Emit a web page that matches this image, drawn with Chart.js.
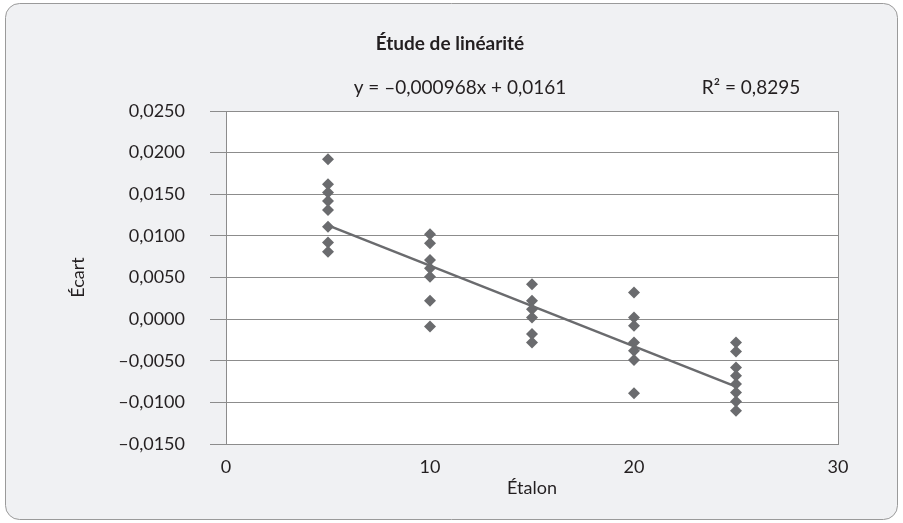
<!DOCTYPE html>
<html>
<head>
<meta charset="utf-8">
<script src="https://cdn.jsdelivr.net/npm/chart.js@4"></script>
<style>
  html, body { margin: 0; padding: 0; background: #ffffff; }
  #wrap { width: 903px; height: 523px; }
</style>
</head>
<body>
<div id="wrap"><canvas id="chart"></canvas></div>
<script>
const etalon5 = [0.0192, 0.0162, 0.0152, 0.0142, 0.0131, 0.0111, 0.0092, 0.0081];
const etalon10 = [0.0102, 0.0091, 0.0071, 0.0061, 0.0051, 0.0022, -0.0009];
const etalon15 = [0.0042, 0.0022, 0.0012, 0.0002, -0.0018, -0.0028];
const etalon20 = [0.0032, 0.0002, -0.0008, -0.0028, -0.0038, -0.0049, -0.0089];
const etalon25 = [-0.0028, -0.0039, -0.0058, -0.0068, -0.0078, -0.0088, -0.0099, -0.0110];
const levels = [5, 10, 15, 20, 25];

const slope = -0.000968;
const intercept = 0.0161;
const rSquared = '0,8295';
const trendRange = [5, 25];

const yTicks = [-0.015, -0.01, -0.005, 0, 0.005, 0.01, 0.015, 0.02, 0.025];
const xTicks = [0, 10, 20, 30];

const series = [etalon5, etalon10, etalon15, etalon20, etalon25];
const points = [];
series.forEach((vals, i) => vals.forEach(v => points.push({ x: levels[i], y: v })));

const trend = trendRange.map(x => ({ x: x, y: slope * x + intercept }));

const grey = '#6a6b6e';
const fontFamily = 'Lato, "Open Sans", sans-serif';

function frDash(v, digits) {
  const s = Math.abs(v).toFixed(digits).replace('.', ',');
  return (v < -1e-12 ? '\u2013' : '') + s;
}

const frame = {
  id: 'frame',
  beforeDraw(chart) {
    const { ctx, chartArea: a } = chart;
    ctx.save();
    ctx.fillStyle = '#ffffff';
    ctx.fillRect(0, 0, chart.width, chart.height);
    ctx.beginPath();
    ctx.roundRect(5.5, 3.5, 892, 516, 14);
    ctx.fillStyle = '#f0f1f3';
    ctx.fill();
    ctx.strokeStyle = '#9a9a9a';
    ctx.lineWidth = 1;
    ctx.stroke();
    ctx.fillStyle = '#ffffff';
    ctx.fillRect(a.left, a.top, a.right - a.left, a.bottom - a.top);
    ctx.restore();
  },
  afterDraw(chart) {
    const { ctx, chartArea: a } = chart;
    ctx.save();
    ctx.strokeStyle = '#8c8c8c';
    ctx.lineWidth = 1;
    ctx.strokeRect(Math.round(a.left) + 0.5, Math.round(a.top) + 0.5, a.right - a.left, a.bottom - a.top);
    ctx.fillStyle = '#231f20';
    ctx.textAlign = 'center';
    ctx.textBaseline = 'middle';
    ctx.font = 'bold 19px ' + fontFamily;
    ctx.fillText('Étude de linéarité', 450, 44);
    ctx.font = '19px ' + fontFamily;
    const eq = 'y = ' + frDash(slope, 6) + 'x + ' + frDash(intercept, 4);
    ctx.fillText(eq, 460, 88);
    ctx.fillText('R\u00B2 = ' + rSquared, 751, 88);
    ctx.restore();
  }
};

new Chart(document.getElementById('chart'), {
  type: 'scatter',
  data: {
    datasets: [
      {
        label: 'Écart',
        data: points,
        pointStyle: 'rectRot',
        pointRadius: 6,
        pointHoverRadius: 6,
        backgroundColor: grey,
        borderColor: grey,
        borderWidth: 0,
        order: 1
      },
      {
        label: 'Tendance',
        type: 'line',
        data: trend,
        borderColor: grey,
        borderWidth: 2.5,
        pointRadius: 0,
        fill: false,
        order: 2
      }
    ]
  },
  options: {
    responsive: true,
    maintainAspectRatio: false,
    animation: false,
    layout: { padding: { left: 0, right: 65, top: 111, bottom: 0 } },
    plugins: {
      legend: { display: false },
      tooltip: { enabled: false },
      title: { display: false }
    },
    scales: {
      x: {
        type: 'linear',
        min: 0,
        max: 30,
        afterBuildTicks: s => { s.ticks = xTicks.map(v => ({ value: v })); },
        afterFit: s => { s.height = 79; },
        grid: { display: false, drawTicks: false },
        border: { display: false },
        ticks: {
          padding: 12,
          color: '#231f20',
          font: { family: fontFamily, size: 18 },
          callback: v => String(v)
        },
        title: {
          display: true,
          text: 'Étalon',
          color: '#231f20',
          font: { family: fontFamily, size: 18 },
          padding: { top: 0, bottom: 24 }
        }
      },
      y: {
        type: 'linear',
        min: -0.015,
        max: 0.025,
        afterBuildTicks: s => { s.ticks = yTicks.map(v => ({ value: v })); },
        afterFit: s => { s.width = 226; },
        grid: { color: '#8c8c8c', lineWidth: 1, drawTicks: true, tickLength: 16 },
        border: { display: false },
        ticks: {
          padding: 25,
          color: '#231f20',
          font: { family: fontFamily, size: 18 },
          callback: v => frDash(v, 4)
        },
        title: {
          display: true,
          text: 'Écart',
          color: '#231f20',
          font: { family: fontFamily, size: 18 },
          padding: { top: 67, bottom: 0 }
        }
      }
    }
  },
  plugins: [frame]
});
</script>
</body>
</html>
